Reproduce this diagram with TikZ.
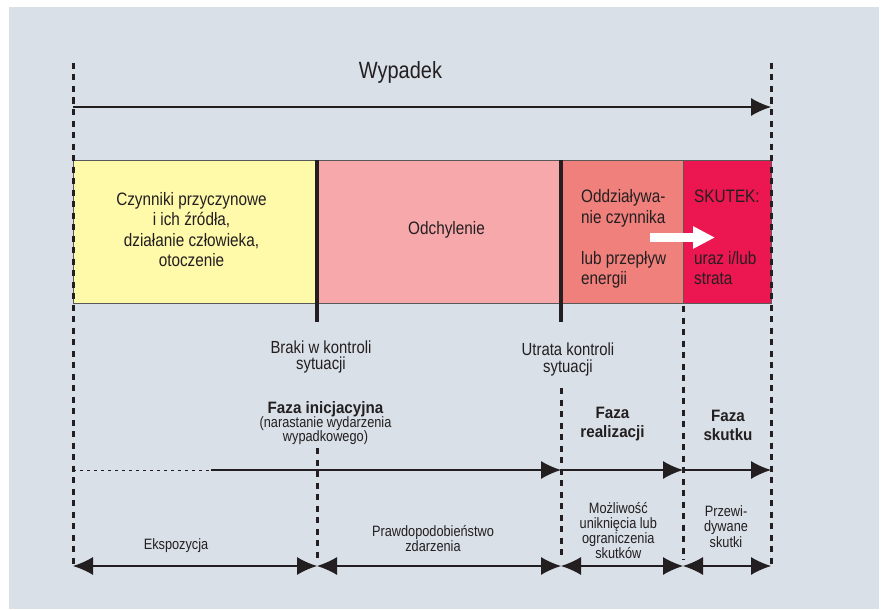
\documentclass[tikz,border=0pt]{standalone}
\usepackage{fontspec}
\setmainfont{Liberation Sans}[FakeStretch=0.85]
\newfontfamily\grube{Liberation Sans}[FakeStretch=0.92]
\usetikzlibrary{arrows.meta,positioning}
\definecolor{tlo}{RGB}{217,224,232}
\definecolor{zolty}{RGB}{255,249,170}
\definecolor{rozowy}{RGB}{246,168,170}
\definecolor{losos}{RGB}{240,128,123}
\definecolor{karmin}{RGB}{236,22,80}
\definecolor{tusz}{RGB}{35,31,32}
\begin{document}
\begin{tikzpicture}[x=1pt,y=-1pt,>={Latex[length=20pt,width=18pt]},
    pole/.style={draw=tusz!75,line width=0.9pt,inner sep=0pt,outer sep=0pt,minimum height=143pt},
    kreska/.style={tusz,line width=3pt,dash pattern=on 6pt off 5.5pt},
    granica/.style={tusz,line width=3.5pt},
    strzalka/.style={tusz,line width=1.2pt},
    napis/.style={text=tusz,inner sep=0pt,align=center,font=\fontsize{15}{15}\selectfont},
    duzy/.style={napis,font=\fontsize{18}{20.5}\selectfont},
    faza/.style={napis,font=\grube\bfseries\fontsize{16.5}{19.3}\selectfont}]
    %	\draw[line width=0.1pt,dashed] (0,0) grid (884,610);
    \useasboundingbox (0,0) rectangle (884,610);
    \fill[white] (0,0) rectangle (884,610);
    \fill[tlo] (9,7) rectangle (879,609);
    % pola
    \node[pole,fill=zolty,minimum width=244pt,anchor=north west] (przyczyny) at (73,160) {};
    \node[pole,fill=rozowy,minimum width=244pt,right=0pt of przyczyny] (odchylenie) {};
    \node[pole,fill=losos,minimum width=122pt,right=0pt of odchylenie] (oddzialywanie) {};
    \node[pole,fill=karmin,minimum width=88pt,right=0pt of oddzialywanie] (skutek) {};
    \node[duzy,anchor=north] (czynniki) at (191.5,192) {Czynniki przyczynowe\\i ich źródła,\\działanie człowieka,\\otoczenie};
    \node[duzy,anchor=base] (odch) at (446.5,234) {Odchylenie};
    \node[duzy,align=left,anchor=north west] (energia) at (581,189.5) {Oddziaływa-\\nie czynnika\\[20.5pt]lub przepływ\\energii};
    \node[duzy,align=left,anchor=north west] (uraz) at (694,190) {SKUTEK:\\[41pt]uraz i/lub\\strata};
    \draw[white,line width=8.3pt,-{Triangle[length=22pt,width=21pt]}] (650,237.5) -- (715,237.5);
    \draw[granica] (przyczyny.north east) -- ++(0,162);
    \draw[granica] (odchylenie.north east) -- ++(0,162);
    % linie przerywane
    \draw[kreska] (73,63) -- (73,566);
    \draw[kreska] (317,448) -- (317,558);
    \draw[kreska] (561,388) -- (561,558);
    \draw[kreska] (683,306) -- (683,560);
    \draw[kreska] (771,63) -- (771,566);
    % strzalki
    \coordinate (start) at (73,107);
    \coordinate (koniec) at (771,107);
    \draw[strzalka,->] (start) -- (koniec);
    \coordinate (m0) at (73,470);
    \coordinate (m1) at (211,470);
    \coordinate (m2) at (561,470);
    \coordinate (m3) at (683,470);
    \coordinate (m4) at (771,470);
    \draw[strzalka,line width=1pt,dash pattern=on 3pt off 4pt] (m0) -- (m1);
    \draw[strzalka,->] (m1) -- (m2);
    \draw[strzalka,->] (m2) -- (m3);
    \draw[strzalka,->] (m3) -- (m4);
    \foreach \x [count=\i from 0] in {73,317,561,683,771} \coordinate (d\i) at (\x,566);
    \foreach \a/\b in {d0/d1,d1/d2,d2/d3,d3/d4} \draw[strzalka,<->] (\a) -- (\b);
    % napisy
    \node[napis,font=\fontsize{23.5}{26}\selectfont,anchor=base] (wypadek) at (400.5,78) {Wypadek};
    \node[napis,font=\fontsize{17.5}{16.5}\selectfont,anchor=north] (braki) at (321,340.5) {Braki w kontroli\\sytuacji};
    \node[napis,font=\fontsize{17.5}{16.5}\selectfont,anchor=north] (utrata) at (568,343) {Utrata kontroli\\sytuacji};
    \node[faza,anchor=north] (inicjacja) at (325.5,401) {Faza inicjacyjna};
    \node[napis,font=\fontsize{15}{14}\selectfont,below=0pt of inicjacja] (narastanie) {(narastanie wydarzenia\\wypadkowego)};
    \node[faza,anchor=north] (realizacja) at (612.5,406.7) {Faza\\realizacji};
    \node[faza,anchor=north] (fazaskutku) at (728,410) {Faza\\skutku};
    \node[napis,anchor=base] (ekspozycja) at (176,549) {Ekspozycja};
    \node[napis,anchor=north] (prawdopodobienstwo) at (433,525) {Prawdopodobieństwo\\zdarzenia};
    \node[napis,anchor=north] (mozliwosc) at (618.3,502.7) {Możliwość\\uniknięcia lub\\ograniczenia\\skutków};
    \node[napis,font=\fontsize{15}{15.5}\selectfont,anchor=north] (przewidywane) at (726,505) {Przewi-\\dywane\\skutki};
\end{tikzpicture}
\end{document}
